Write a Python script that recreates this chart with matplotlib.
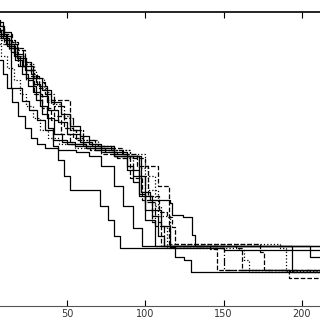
import numpy as np
import matplotlib
matplotlib.use("Agg")
import matplotlib.pyplot as plt

# step curves (value held until the next x)
runs = [
    ([0, 5, 9, 13, 17, 21, 25, 30, 34, 38, 41, 44, 48, 52, 60, 71, 76, 80, 84, 150, 212],
     [282, 276, 268, 258, 246, 232, 220, 206, 192, 178, 160, 146, 130, 116, 116, 100, 86, 70, 58, 56, 54], '-'),
    ([0, 7, 10, 14, 21, 26, 31, 36, 41, 50, 62, 74, 88, 96, 100, 104, 108, 112, 212],
     [286, 280, 270, 218, 205, 196, 186, 176, 166, 162, 158, 154, 150, 130, 110, 90, 70, 60, 54], '-'),
    ([0, 8, 12, 16, 20, 24, 28, 33, 37, 42, 47, 55, 68, 80, 88, 92, 96, 100, 110, 116, 119, 125, 129, 212],
     [276, 268, 260, 250, 240, 228, 214, 200, 188, 172, 164, 160, 156, 150, 140, 124, 110, 96, 80, 59, 49, 46, 34, 33], '-'),
    ([0, 10, 15, 19, 23, 27, 31, 37, 52, 56, 60, 65, 72, 80, 90, 100, 108, 115, 141, 146, 212],
     [280, 272, 264, 256, 244, 232, 220, 206, 176, 166, 160, 156, 152, 150, 148, 140, 120, 60, 57, 36, 35], '--'),
    ([0, 4, 8, 12, 16, 20, 24, 28, 33, 38, 45, 55, 70, 90, 100, 106, 110, 114, 160, 163, 166, 212],
     [272, 262, 250, 238, 226, 212, 200, 188, 176, 168, 162, 158, 156, 152, 130, 100, 80, 58, 56, 46, 34, 33], ':'),
    ([0, 9, 14, 18, 23, 28, 33, 38, 44, 50, 58, 66, 80, 97, 103, 116, 117, 124, 130, 132, 194, 212],
     [284, 274, 262, 248, 236, 222, 210, 196, 184, 172, 164, 160, 150, 114, 106, 103, 91, 89, 71, 60, 34, 34], '-'),
    ([0, 7, 12, 17, 22, 27, 32, 37, 42, 48, 54, 60, 70, 85, 95, 102, 109, 114, 117, 119, 173, 176, 212],
     [278, 272, 266, 258, 244, 230, 218, 204, 190, 178, 168, 162, 158, 152, 140, 110, 94, 89, 79, 62, 54, 36, 34], '--'),
    ([0, 3, 6, 9, 12, 15, 19, 23, 27, 31, 36, 44, 56, 64, 72, 80, 86, 92, 98, 212],
     [270, 258, 246, 232, 218, 204, 190, 178, 168, 162, 158, 156, 154, 150, 140, 120, 100, 78, 60, 52], '-'),
    ([0, 8, 13, 18, 24, 30, 36, 42, 48, 54, 60, 68, 78, 86, 92, 100, 106, 112, 146, 150, 212],
     [274, 266, 258, 248, 236, 224, 212, 200, 188, 176, 166, 160, 156, 150, 130, 104, 80, 60, 58, 36, 35], '-.'),
    ([0, 8, 13, 18, 24, 29, 35, 40, 46, 52, 60, 70, 80, 90, 96, 102, 108, 116, 186, 190, 212],
     [268, 262, 256, 250, 242, 228, 214, 202, 190, 176, 166, 160, 156, 150, 138, 116, 90, 62, 58, 35, 34], ':'),
    ([0, 6, 10, 14, 19, 24, 29, 34, 40, 46, 52, 62, 72, 82, 90, 98, 104, 110, 158, 162, 192, 212],
     [276, 270, 262, 254, 240, 226, 212, 198, 186, 172, 162, 158, 154, 148, 128, 106, 84, 60, 58, 36, 28, 28], '--'),
    ([0, 6, 11, 16, 22, 28, 34, 40, 46, 52, 58, 64, 72, 80, 88, 96, 100, 106, 205, 212],
     [280, 272, 262, 252, 240, 228, 216, 204, 192, 180, 170, 162, 158, 152, 136, 112, 86, 60, 49, 49], '-'),
]
xticks = [50, 100, 150, 200]

fig = plt.figure(figsize=(3.2, 3.2), dpi=100)
# axes is wider than the figure: the left and right edges are cut off like the reference
ax = fig.add_axes([-0.0353, 0.04375, 1.2234, 0.91875])

for xs, ys, ls in runs:
    ax.step(xs, ys, where='post', color='black', lw=0.9, linestyle=ls)

ax.set_xlim(0, 250)
ax.set_ylim(0, 294)
ax.set_xticks(xticks)
ax.set_yticks([])
ax.tick_params(axis='x', direction='in', top=True, length=4, width=0.8,
               labelsize=7, labelcolor='#333333', pad=2)
for s in ax.spines.values():
    s.set_linewidth(0.8)
ax.spines['top'].set_linewidth(1.2)
ax.spines['bottom'].set_color('#555555')

fig.savefig('out.png', dpi=100)
